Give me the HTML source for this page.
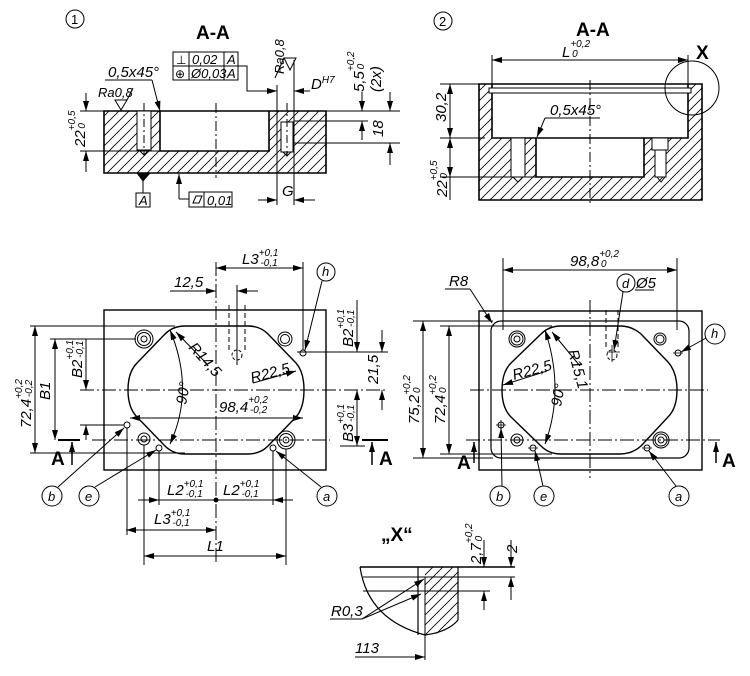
<!DOCTYPE html>
<html><head><meta charset="utf-8"><style>
html,body{margin:0;padding:0;background:#fff;}
svg{display:block;}
text{font-family:"Liberation Sans Narrow","Liberation Sans",sans-serif;font-style:italic;font-size:15px;fill:#000;}
.b{font-style:normal;font-weight:bold;font-size:19px;}
.s{font-size:10px;}
</style></head><body>
<svg width="750" height="676" viewBox="0 0 750 676" xmlns="http://www.w3.org/2000/svg">
<defs>
<pattern id="h" patternUnits="userSpaceOnUse" width="10" height="10"><path d="M-1,11 L11,-1 M-6,6 L6,-6 M4,16 L16,4" stroke="#000" stroke-width="0.8"/></pattern>
<marker id="a" viewBox="0 0 10 6" refX="10" refY="3" markerWidth="10" markerHeight="6" markerUnits="userSpaceOnUse" orient="auto-start-reverse"><path d="M0,0 L10,3 L0,6z" fill="#000"/></marker>
</defs>
<g fill="none" stroke="#000" stroke-width="1">
<!-- SECTION 1 -->
<path d="M104,111H326V173H104Z M160,111H269V151H160Z" fill="url(#h)" fill-rule="evenodd" stroke-width="1.6"/>
<rect x="137" y="111" width="14" height="39" fill="#fff"/>
<rect x="281" y="122" width="12" height="30" fill="#fff"/>
<line x1="277" y1="111" x2="277" y2="151"/>
<line x1="144" y1="103" x2="144" y2="155" stroke-dasharray="8,3,2,3"/>
<line x1="287" y1="103" x2="287" y2="155" stroke-dasharray="8,3,2,3"/>
<path d="M139,150 L144,155 L149,150 M283,152 L287,156 L291,152"/>
<line x1="216" y1="103" x2="216" y2="178" stroke-dasharray="10,3,2,3"/>
<line x1="80" y1="111" x2="104" y2="111"/><line x1="80" y1="151" x2="160" y2="151"/>
<line x1="86" y1="93" x2="86" y2="111" marker-end="url(#a)"/><line x1="86" y1="172" x2="86" y2="151" marker-end="url(#a)"/>
<line x1="105" y1="80" x2="152" y2="80"/><line x1="152" y1="80" x2="160" y2="111" marker-end="url(#a)"/>
<path d="M115,100 L127,100 L121,110Z M127,100 L133,88"/>
<rect x="173" y="52" width="65" height="28"/><line x1="173" y1="66" x2="238" y2="66"/><line x1="189" y1="52" x2="189" y2="80"/><line x1="224" y1="52" x2="224" y2="80"/>
<path d="M238,66 H247 V91 H277" marker-end="url(#a)"/>
<line x1="310" y1="91" x2="294" y2="91" marker-end="url(#a)"/>
<line x1="277" y1="85" x2="277" y2="205"/><line x1="294" y1="60" x2="294" y2="205"/>
<path d="M284,58 L296,58 L290,70Z M275,78 L284,58"/>
<line x1="326" y1="111" x2="400" y2="111"/><line x1="294" y1="121" x2="368" y2="121"/><line x1="294" y1="143" x2="400" y2="143"/>
<line x1="362" y1="92" x2="362" y2="111" marker-end="url(#a)"/><line x1="362" y1="140" x2="362" y2="121" marker-end="url(#a)"/>
<line x1="390" y1="92" x2="390" y2="111" marker-end="url(#a)"/><line x1="390" y1="165" x2="390" y2="143" marker-end="url(#a)"/>
<path d="M137,173 L150,173 L143,181Z" fill="#000"/><line x1="143" y1="181" x2="143" y2="193"/>
<rect x="136" y="193" width="14" height="14"/>
<line x1="179" y1="199" x2="179" y2="174" marker-end="url(#a)"/><line x1="179" y1="199" x2="189" y2="199"/>
<rect x="189" y="192" width="43" height="15"/><line x1="204" y1="192" x2="204" y2="207"/>
<path d="M193,203 L196,196 L202,196 L199,203Z"/>
<line x1="258" y1="200" x2="277" y2="200" marker-end="url(#a)"/><line x1="315" y1="200" x2="294" y2="200" marker-end="url(#a)"/>
<circle cx="75" cy="19" r="9"/>
<!-- SECTION 2 -->
<path d="M479,84H702V200H479Z M492,84H688V138H492Z M536,138H644V177H536Z" fill="url(#h)" fill-rule="evenodd" stroke-width="1.6"/>
<rect x="511" y="138" width="14" height="39" fill="#fff"/>
<rect x="652" y="138" width="16" height="12" fill="#fff"/><rect x="655" y="150" width="11" height="27" fill="#fff"/>
<path d="M513,177 L518,182 L523,177 M657,177 L661,182 L665,177"/>
<rect x="489" y="88" width="202" height="5" fill="#fff"/>
<line x1="590" y1="80" x2="590" y2="205" stroke-dasharray="10,3,2,3"/>
<line x1="492" y1="55" x2="492" y2="88"/><line x1="688" y1="55" x2="688" y2="88"/>
<line x1="520" y1="60" x2="492" y2="60" marker-end="url(#a)"/><line x1="660" y1="60" x2="688" y2="60" marker-end="url(#a)"/><line x1="520" y1="60" x2="660" y2="60"/>
<circle cx="692" cy="88" r="27"/>
<line x1="440" y1="84" x2="479" y2="84"/><line x1="440" y1="138" x2="485" y2="138"/><line x1="440" y1="177" x2="536" y2="177"/>
<line x1="450" y1="110" x2="450" y2="84" marker-end="url(#a)"/><line x1="450" y1="110" x2="450" y2="138" marker-end="url(#a)"/>
<line x1="450" y1="155" x2="450" y2="138" marker-end="url(#a)"/><line x1="450" y1="155" x2="450" y2="177" marker-end="url(#a)"/><line x1="450" y1="177" x2="450" y2="200"/>
<line x1="545" y1="118" x2="600" y2="118"/><line x1="545" y1="118" x2="537" y2="137" marker-end="url(#a)"/>
<circle cx="443" cy="21" r="9"/>
<!-- PLAN 1 -->
<rect x="104" y="310" width="222" height="160" stroke-width="1.4"/>
<path d="M185,326 H248 Q260,326 268,334 L296,363 Q304,372 304,390 Q304,408 296,417 L268,446 Q260,454 248,454 H185 Q173,454 165,446 L137,417 Q128,408 128,390 Q128,372 137,363 L165,334 Q173,326 185,326Z" stroke-width="1.4"/>
<line x1="80" y1="390" x2="388" y2="390" stroke-dasharray="14,3,2,3"/>
<line x1="216" y1="262" x2="216" y2="565" stroke-dasharray="14,3,2,3"/>
<line x1="92" y1="440" x2="330" y2="440" stroke-dasharray="14,3,2,3"/>
<line x1="58" y1="440" x2="80" y2="440" stroke-width="2"/><line x1="362" y1="440" x2="388" y2="440" stroke-width="2"/>
<line x1="72" y1="465" x2="72" y2="442" marker-end="url(#a)" stroke-width="1.5"/><line x1="372" y1="465" x2="372" y2="442" marker-end="url(#a)" stroke-width="1.5"/>
<circle cx="144" cy="339" r="9"/><circle cx="144" cy="339" r="6.5"/><circle cx="144" cy="339" r="3"/>
<circle cx="285" cy="339" r="7"/><circle cx="285" cy="339" r="4.5"/>
<circle cx="144" cy="439" r="6"/><circle cx="144" cy="439" r="3"/>
<circle cx="286" cy="440" r="9"/><circle cx="286" cy="440" r="6.5"/><circle cx="286" cy="440" r="3"/>
<circle cx="127" cy="425" r="3"/><circle cx="159" cy="448" r="3"/><circle cx="273" cy="448" r="3"/><circle cx="303" cy="353" r="3"/>
<path d="M229,305 V350 M245,305 V350" stroke-dasharray="5,3"/><circle cx="237" cy="355" r="5" stroke-dasharray="3,2"/>
<line x1="237" y1="285" x2="237" y2="365"/>
<line x1="303" y1="262" x2="303" y2="350"/>
<line x1="260" y1="268" x2="216" y2="268" marker-end="url(#a)"/><line x1="260" y1="268" x2="303" y2="268" marker-end="url(#a)"/>
<line x1="170" y1="291" x2="216" y2="291" marker-end="url(#a)"/><line x1="258" y1="291" x2="237" y2="291" marker-end="url(#a)"/>
<circle cx="326" cy="272" r="9"/><line x1="322" y1="281" x2="305" y2="350" marker-end="url(#a)"/>
<line x1="297" y1="352" x2="388" y2="352"/><line x1="340" y1="446" x2="365" y2="446"/>
<line x1="357" y1="300" x2="357" y2="352" marker-end="url(#a)"/>
<line x1="357" y1="420" x2="357" y2="390" marker-end="url(#a)"/><line x1="357" y1="420" x2="357" y2="446" marker-end="url(#a)"/>
<line x1="382" y1="330" x2="382" y2="352" marker-end="url(#a)"/><line x1="382" y1="410" x2="382" y2="390" marker-end="url(#a)"/>
<line x1="30" y1="326" x2="175" y2="326"/><line x1="30" y1="453" x2="185" y2="453"/>
<line x1="50" y1="339" x2="136" y2="339"/><line x1="80" y1="425" x2="124" y2="425"/>
<line x1="35" y1="390" x2="35" y2="326" marker-end="url(#a)"/><line x1="35" y1="390" x2="35" y2="453" marker-end="url(#a)"/>
<line x1="55" y1="390" x2="55" y2="339" marker-end="url(#a)"/><line x1="55" y1="390" x2="55" y2="440" marker-end="url(#a)"/>
<line x1="86" y1="339" x2="86" y2="390" marker-end="url(#a)"/><line x1="86" y1="440" x2="86" y2="425" marker-end="url(#a)"/>
<line x1="130" y1="418" x2="303" y2="418"/><path d="M140,418 L130,418" marker-end="url(#a)"/><path d="M293,418 L303,418" marker-end="url(#a)"/>
<path d="M170,330 Q195,390 170,444" marker-start="url(#a)" marker-end="url(#a)"/>
<line x1="207" y1="364" x2="176" y2="332" marker-end="url(#a)"/>
<line x1="253" y1="383" x2="296" y2="371" marker-end="url(#a)"/>
<line x1="127" y1="428" x2="127" y2="535"/><line x1="144" y1="445" x2="144" y2="565"/><line x1="159" y1="451" x2="159" y2="505"/><line x1="273" y1="451" x2="273" y2="505"/><line x1="286" y1="449" x2="286" y2="565"/>
<line x1="138" y1="500" x2="293" y2="500"/><path d="M150,500 L159,500" marker-end="url(#a)"/><path d="M283,500 L273,500" marker-end="url(#a)"/>
<circle cx="216" cy="500" r="2" fill="#000"/>
<line x1="126" y1="530" x2="216" y2="530" marker-start="url(#a)" marker-end="url(#a)"/>
<line x1="144" y1="556" x2="286" y2="556" marker-start="url(#a)" marker-end="url(#a)"/>
<circle cx="52" cy="496" r="10"/><line x1="58" y1="487" x2="124" y2="428" marker-end="url(#a)"/>
<circle cx="89" cy="496" r="10"/><line x1="95" y1="487" x2="156" y2="450" marker-end="url(#a)"/>
<circle cx="327" cy="496" r="10"/><line x1="321" y1="487" x2="276" y2="451" marker-end="url(#a)"/>
<!-- PLAN 2 -->
<rect x="479" y="311" width="223" height="159" stroke-width="1.4"/>
<rect x="491" y="321" width="198" height="137" rx="10" stroke-width="1.2"/>
<path d="M561,326 H620 Q632,326 641,334 L668,362 Q677,372 677,390 Q677,408 668,417 L641,446 Q632,454 620,454 H561 Q549,454 541,446 L511,417 Q502,408 502,390 Q502,372 511,363 L541,334 Q549,326 561,326Z" stroke-width="1.4"/>
<line x1="470" y1="390" x2="708" y2="390" stroke-dasharray="14,3,2,3"/>
<line x1="590" y1="300" x2="590" y2="478" stroke-dasharray="14,3,2,3"/>
<line x1="466" y1="440" x2="720" y2="440" stroke-dasharray="14,3,2,3"/>
<line x1="474" y1="463" x2="474" y2="442" marker-end="url(#a)" stroke-width="1.5"/><line x1="716" y1="463" x2="716" y2="442" marker-end="url(#a)" stroke-width="1.5"/>
<circle cx="517" cy="339" r="8"/><circle cx="517" cy="339" r="6"/><circle cx="517" cy="339" r="3"/>
<circle cx="660" cy="339" r="6"/><circle cx="660" cy="339" r="4"/>
<circle cx="517" cy="440" r="6"/><circle cx="517" cy="440" r="3"/>
<circle cx="661" cy="440" r="8"/><circle cx="661" cy="440" r="6"/><circle cx="661" cy="440" r="3"/>
<circle cx="501" cy="425" r="3"/><circle cx="533" cy="448" r="3"/><circle cx="647" cy="448" r="3"/><circle cx="678" cy="353" r="3"/>
<path d="M496,425 H506 M501,420 V430 M528,448 H538 M642,448 H652 M673,353 H683 M607,352 H620 M612,345 V362" stroke-width="0.8"/>
<path d="M606,310 V350 M618,310 V350" stroke-dasharray="5,3"/><circle cx="612" cy="355" r="5" stroke-dasharray="3,2"/>
<line x1="503" y1="258" x2="503" y2="330"/><line x1="677" y1="258" x2="677" y2="330"/>
<line x1="503" y1="270" x2="677" y2="270" marker-start="url(#a)" marker-end="url(#a)"/>
<circle cx="626" cy="283" r="9"/><line x1="635" y1="290" x2="654" y2="290"/><line x1="623" y1="292" x2="614" y2="350" marker-end="url(#a)"/>
<line x1="445" y1="289" x2="470" y2="289"/><line x1="470" y1="289" x2="492" y2="323" marker-end="url(#a)"/>
<line x1="413" y1="321" x2="493" y2="321"/><line x1="413" y1="458" x2="493" y2="458"/><line x1="440" y1="326" x2="552" y2="326"/><line x1="440" y1="454" x2="552" y2="454"/>
<line x1="423" y1="390" x2="423" y2="321" marker-end="url(#a)"/><line x1="423" y1="390" x2="423" y2="458" marker-end="url(#a)"/>
<line x1="449" y1="390" x2="449" y2="326" marker-end="url(#a)"/><line x1="449" y1="390" x2="449" y2="454" marker-end="url(#a)"/>
<path d="M545,330 Q565,390 545,444" marker-start="url(#a)" marker-end="url(#a)"/>
<line x1="580" y1="366" x2="552" y2="332" marker-end="url(#a)"/>
<line x1="547" y1="371" x2="503" y2="385" marker-end="url(#a)"/>
<circle cx="500" cy="496" r="10"/><line x1="502" y1="486" x2="501" y2="428" marker-end="url(#a)"/>
<circle cx="544" cy="496" r="10"/><line x1="543" y1="486" x2="535" y2="451" marker-end="url(#a)"/>
<circle cx="679" cy="496" r="10"/><line x1="676" y1="486" x2="649" y2="451" marker-end="url(#a)"/>
<circle cx="715" cy="334" r="10"/><line x1="706" y1="338" x2="681" y2="352" marker-end="url(#a)"/>
<!-- DETAIL X -->
<path d="M425,567 H458 V620 Q445,635 425,635Z" fill="url(#h)" stroke="none"/>
<line x1="360" y1="567" x2="515" y2="567" stroke-width="1.6"/>
<path d="M360,567 Q368,620 425,635 Q448,632 458,620 V567" stroke-width="1.2"/>
<line x1="418" y1="567" x2="418" y2="635" stroke-width="1.2"/><line x1="425" y1="577" x2="425" y2="660"/>
<line x1="363" y1="577" x2="515" y2="577"/><line x1="363" y1="591" x2="490" y2="591"/>
<line x1="484" y1="540" x2="484" y2="567" marker-end="url(#a)"/><line x1="484" y1="610" x2="484" y2="591" marker-end="url(#a)"/>
<line x1="511" y1="540" x2="511" y2="567" marker-end="url(#a)"/><line x1="511" y1="600" x2="511" y2="577" marker-end="url(#a)"/>
<line x1="330" y1="619" x2="362" y2="619"/><line x1="362" y1="619" x2="424" y2="579" marker-end="url(#a)"/><line x1="362" y1="619" x2="421" y2="594" marker-end="url(#a)"/>
<line x1="355" y1="657" x2="425" y2="657" marker-end="url(#a)"/>
</g>
<!-- TEXT -->
<text x="71" y="24" style="font-style:normal;font-size:13px">1</text>
<text x="439" y="26" style="font-style:normal;font-size:13px">2</text>
<text class="b" x="196" y="39">A-A</text>
<text class="b" x="576" y="36">A-A</text>
<text class="b" x="696" y="59">X</text>
<text class="b" x="381" y="541">„X“</text>
<text x="108" y="77">0,5x45°</text>
<text x="98" y="97" style="font-size:13px">Ra0,8</text>
<text x="176" y="64" style="font-style:normal;font-size:12px">⊥</text><text x="192" y="64" style="font-size:13px">0,02</text><text x="227" y="64" style="font-size:13px">A</text>
<text x="175" y="78" style="font-style:normal;font-size:12px">⊕</text><text x="191" y="78" style="font-size:13px">Ø0,03</text><text x="227" y="78" style="font-size:13px">A</text>
<text x="139" y="205" style="font-size:13px">A</text>
<text x="207" y="205" style="font-size:13px">0,01</text>
<text x="311" y="89">D<tspan class="s" dy="-6">H7</tspan></text>
<text x="282" y="196">G</text>
<text transform="translate(284,74) rotate(-90)" style="font-size:13px">Ra0,8</text>
<text transform="translate(364,92) rotate(-90)">5,5<tspan class="s" dy="-10">+0,2</tspan><tspan class="s" dx="-18" dy="10">0</tspan></text>
<text transform="translate(381,92) rotate(-90)">(2x)</text>
<text transform="translate(383,137) rotate(-90)">18</text>
<text transform="translate(85,147) rotate(-90)">22<tspan class="s" dy="-10">+0,5</tspan><tspan class="s" dx="-18" dy="10">0</tspan></text>
<text x="562" y="57">L<tspan class="s" dy="-10">+0,2</tspan><tspan class="s" dx="-18" dy="10">0</tspan></text>
<text x="550" y="115">0,5x45°</text>
<text transform="translate(446,122) rotate(-90)">30,2</text>
<text transform="translate(447,197) rotate(-90)">22<tspan class="s" dy="-10">+0,5</tspan><tspan class="s" dx="-18" dy="10">0</tspan></text>
<text x="242" y="264">L3<tspan class="s" dy="-8">+0,1</tspan><tspan class="s" dx="-18" dy="10">-0,1</tspan></text>
<text x="174" y="287">12,5</text>
<text x="322" y="276" style="font-size:13px">h</text>
<text transform="translate(353,347) rotate(-90)">B2<tspan class="s" dy="-9">+0,1</tspan><tspan class="s" dx="-18" dy="10">-0,1</tspan></text>
<text transform="translate(378,384) rotate(-90)">21,5</text>
<text transform="translate(353,442) rotate(-90)">B3<tspan class="s" dy="-9">+0,1</tspan><tspan class="s" dx="-18" dy="10">-0,1</tspan></text>
<text transform="translate(31,428) rotate(-90)">72,4<tspan class="s" dy="-9">+0,2</tspan><tspan class="s" dx="-18" dy="10">-0,2</tspan></text>
<text transform="translate(50,400) rotate(-90)">B1</text>
<text transform="translate(82,378) rotate(-90)">B2<tspan class="s" dy="-9">+0,1</tspan><tspan class="s" dx="-18" dy="10">-0,1</tspan></text>
<text x="219" y="412">98,4<tspan class="s" dy="-9">+0,2</tspan><tspan class="s" dx="-18" dy="10">-0,2</tspan></text>
<text transform="translate(188,348) rotate(48)">R14,5</text>
<text transform="translate(252,383) rotate(-15)">R22,5</text>
<text transform="translate(186,405) rotate(-80)">90°</text>
<text class="b" x="51" y="465">A</text><text class="b" x="379" y="465">A</text>
<text x="48" y="501" style="font-size:13px">b</text><text x="85" y="501" style="font-size:13px">e</text><text x="323" y="501" style="font-size:13px">a</text>
<text x="167" y="495">L2<tspan class="s" dy="-8">+0,1</tspan><tspan class="s" dx="-18" dy="10">-0,1</tspan></text>
<text x="223" y="495">L2<tspan class="s" dy="-8">+0,1</tspan><tspan class="s" dx="-18" dy="10">-0,1</tspan></text>
<text x="154" y="524">L3<tspan class="s" dy="-8">+0,1</tspan><tspan class="s" dx="-18" dy="10">-0,1</tspan></text>
<text x="207" y="551">L1</text>
<text x="570" y="266">98,8<tspan class="s" dy="-9">+0,2</tspan><tspan class="s" dx="-18" dy="10">0</tspan></text>
<text x="449" y="286">R8</text>
<text x="622" y="288" style="font-size:13px">d</text><text x="636" y="288">Ø5</text>
<text x="711" y="338" style="font-size:13px">h</text>
<text transform="translate(568,351) rotate(75)">R15,1</text>
<text transform="translate(514,380) rotate(-15)">R22,5</text>
<text transform="translate(561,407) rotate(-80)">90°</text>
<text transform="translate(419,424) rotate(-90)">75,2<tspan class="s" dy="-9">+0,2</tspan><tspan class="s" dx="-18" dy="10">0</tspan></text>
<text transform="translate(445,424) rotate(-90)">72,4<tspan class="s" dy="-9">+0,2</tspan><tspan class="s" dx="-18" dy="10">0</tspan></text>
<text class="b" x="457" y="469">A</text><text class="b" x="722" y="467">A</text>
<text x="496" y="501" style="font-size:13px">b</text><text x="540" y="501" style="font-size:13px">e</text><text x="675" y="501" style="font-size:13px">a</text>
<text transform="translate(481,564) rotate(-90)">2,7<tspan class="s" dy="-9">+0,2</tspan><tspan class="s" dx="-18" dy="10">0</tspan></text>
<text transform="translate(517,553) rotate(-90)">2</text>
<text x="331" y="616">R0,3</text>
<text x="355" y="653">113</text>
</svg>
</body></html>
